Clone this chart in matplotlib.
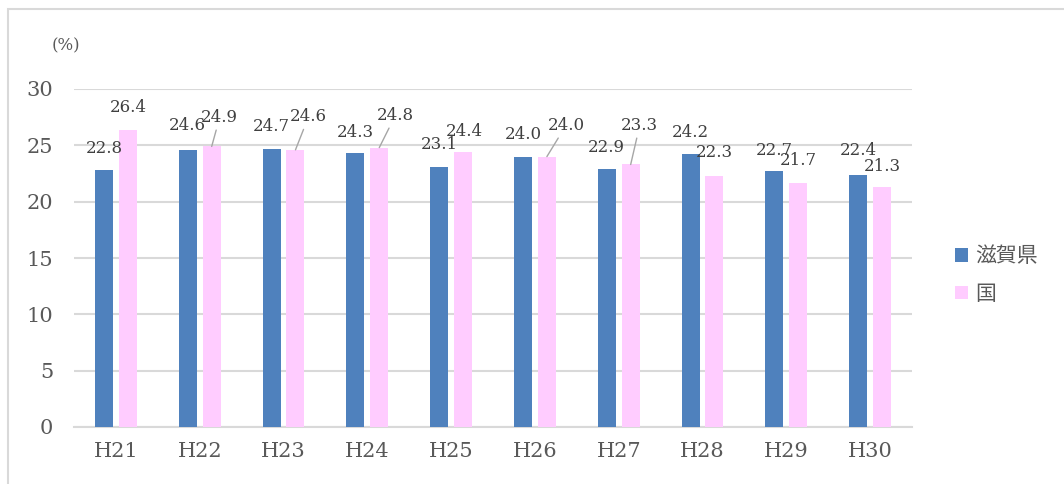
import matplotlib.pyplot as plt
from matplotlib.patches import Rectangle

years = ['H21', 'H22', 'H23', 'H24', 'H25', 'H26', 'H27', 'H28', 'H29', 'H30']
shiga = [22.8, 24.6, 24.7, 24.3, 23.1, 24.0, 22.9, 24.2, 22.7, 22.4]
japan = [26.4, 24.9, 24.6, 24.8, 24.4, 24.0, 23.3, 22.3, 21.7, 21.3]
series_names = ['滋賀県', '国']

# label offsets (pixels) from bar top; leader line drawn when flagged
blue_off = [(0, 22), (0, 24), (0, 22), (0, 21), (0, 22), (0, 22), (0, 21), (0, 22), (0, 21), (0, 24)]
pink_off = [(0, 22), (8, 29), (13, 33), (16, 32), (1, 21), (19, 31), (9, 39), (0, 23), (0, 22), (0, 21)]
pink_leader = [False, True, True, True, False, True, True, False, False, False]

BLUE = '#4F81BD'
PINK = '#FFCCFF'
GRID = '#D9D9D9'
SERIF = ['DejaVu Serif']

W, H = 1064, 484
fig = plt.figure(figsize=(W / 100, H / 100), dpi=100)
ax = fig.add_axes([74 / W, (H - 427) / H, (912 - 74) / W, (427 - 89) / H])

# outer chart frame
fig.patches.append(Rectangle((8 / W, -0.1), 1.2, (H - 9) / H + 0.1,
                             transform=fig.transFigure, fill=False,
                             edgecolor=GRID, linewidth=1.5))

x = list(range(len(years)))
bw = 0.215
off = 0.143
xb = [i - off for i in x]
xp = [i + off for i in x]
ax.bar(xb, shiga, bw, color=BLUE, label=series_names[0], zorder=3)
ax.bar(xp, japan, bw, color=PINK, label=series_names[1], zorder=3)

for i in x:
    ax.annotate(f'{shiga[i]:.1f}', (xb[i], shiga[i]), xytext=blue_off[i],
                textcoords='offset pixels', ha='center', va='center',
                fontsize=12, color='#404040', family=SERIF)
    ap = None
    if pink_leader[i]:
        ap = dict(arrowstyle='-', color='#A6A6A6', lw=1, shrinkA=1, shrinkB=0)
    ax.annotate(f'{japan[i]:.1f}', (xp[i], japan[i]), xytext=pink_off[i],
                textcoords='offset pixels', ha='center', va='center',
                fontsize=12, color='#404040', family=SERIF, arrowprops=ap)

ax.set_xlim(-0.5, len(years) - 0.5)
ax.set_ylim(0, 30)
ax.set_yticks(range(0, 31, 5))
ax.set_xticks(x)
ax.set_xticklabels(years)
ax.grid(axis='y', color=GRID, linewidth=1.5, zorder=0)
ax.set_axisbelow(True)
for s in ['top', 'right', 'left']:
    ax.spines[s].set_visible(False)
ax.spines['bottom'].set_color(GRID)
ax.spines['bottom'].set_linewidth(1.5)
ax.tick_params(length=0, colors='#595959', labelsize=15)
ax.tick_params(axis='y', pad=15)
ax.tick_params(axis='x', pad=11)
for lab in ax.get_xticklabels() + ax.get_yticklabels():
    lab.set_family(SERIF)

fig.text(66 / W, 1 - 46 / H, '(%)', ha='center', va='center',
         fontsize=12, color='#595959', family=SERIF)

leg = ax.legend(loc='center left', bbox_to_anchor=(955 / W, 1 - 275 / H),
                bbox_transform=fig.transFigure, frameon=False,
                borderpad=0, borderaxespad=0, handlelength=0.62,
                handleheight=0.62, handletextpad=0.35, labelspacing=0.75,
                prop={'family': ['Noto Sans CJK JP'], 'size': 15})
for t in leg.get_texts():
    t.set_color('#595959')

fig.savefig('out.png', dpi=100)
